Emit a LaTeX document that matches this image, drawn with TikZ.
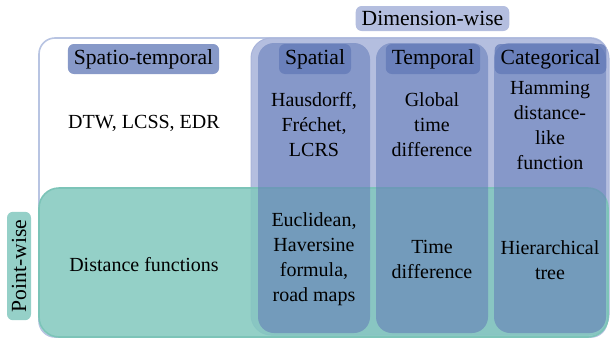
\documentclass[tikz,border=0pt]{standalone}
\usepackage{fontspec}
\setmainfont{Liberation Serif}
\usepackage{xcolor}
\usetikzlibrary{positioning}

\definecolor{wboxline}{HTML}{B8C4E2}
\definecolor{dimfill}{HTML}{B4BEDF}
\definecolor{dimline}{HTML}{A9B4DA}
\definecolor{ptfill}{HTML}{82C8BE}
\definecolor{ptline}{HTML}{7CC4B8}
\definecolor{ptlabel}{HTML}{95D0C8}
\definecolor{colfill}{HTML}{6279B7}

\tikzset{
  colbox/.style={rectangle,fill=colfill,fill opacity=0.55,rounded corners=8pt,minimum width=56pt,minimum height=145pt,inner sep=0pt},
  headlbl/.style={rectangle,fill=colfill,fill opacity=0.76,text opacity=1,rounded corners=3pt,minimum height=15pt,inner xsep=3pt,inner ysep=0pt,font=\fontsize{10.8}{13}\selectfont},
  celltxt/.style={align=center,font=\fontsize{10}{12.5}\selectfont}
}

\begin{document}
\begin{tikzpicture}[x=0.5pt,y=-0.5pt]
\useasboundingbox (0,0) rectangle (610,343);
% background regions
\node[rectangle,draw=wboxline,line width=0.8pt,fill=white,rounded corners=8pt,minimum width=284pt,minimum height=149.5pt,inner sep=0pt] (allbox) at (323,187.5) {};
\node[rectangle,draw=dimline,line width=0.5pt,fill=dimfill,rounded corners=10pt,minimum width=179pt,minimum height=148.5pt,inner sep=0pt] (dimbox) at (430,186.5) {};
\node[rectangle,draw=ptline,line width=0.8pt,fill=ptfill,fill opacity=0.85,rounded corners=10pt,minimum width=284.5pt,minimum height=74.5pt,inner sep=0pt] (ptbox) at (323.5,262.5) {};

% columns
\node[colbox] (spcol) at (314,188) {};
\node[colbox] (tmcol) at (432,188) {};
\node[colbox] (ctcol) at (550,188) {};

% headers
\node[headlbl] (sthead) at (143.5,59) {Spatio-temporal};
\node[headlbl] (sphead) at (315,59) {Spatial};
\node[headlbl] (tmhead) at (433,59) {Temporal};
\node[headlbl] (cthead) at (550.5,59) {Categorical};
\node[rectangle,fill=dimfill,rounded corners=3pt,minimum height=12.5pt,inner xsep=3pt,inner ysep=0pt,font=\fontsize{10.8}{13}\selectfont] (dimhead) at (432.5,18.5) {Dimension-wise};
\node[rectangle,fill=ptlabel,rounded corners=3pt,rotate=90,minimum height=12pt,inner xsep=4pt,inner ysep=0pt,font=\fontsize{10.8}{13}\selectfont] (pthead) at (19,266) {Point-wise};

% cell texts
\node[celltxt] (sttop) at (144,123) {DTW, LCSS, EDR};
\node[celltxt] (stbot) at (144,265) {Distance functions};
\node[celltxt] (sptop) at (314,124.5) {Hausdorff,\\Fréchet,\\LCRS};
\node[celltxt] (tmtop) at (432,124.5) {Global\\time\\difference};
\node[celltxt] (cttop) at (550,125.5) {Hamming\\distance-\\like\\function};
\node[celltxt] (spbot) at (314,259) {Euclidean,\\Haversine\\formula,\\road maps};
\node[celltxt] (tmbot) at (432,259) {Time\\difference};
\node[celltxt] (ctbot) at (550,260.5) {Hierarchical\\tree};
\end{tikzpicture}
\end{document}
